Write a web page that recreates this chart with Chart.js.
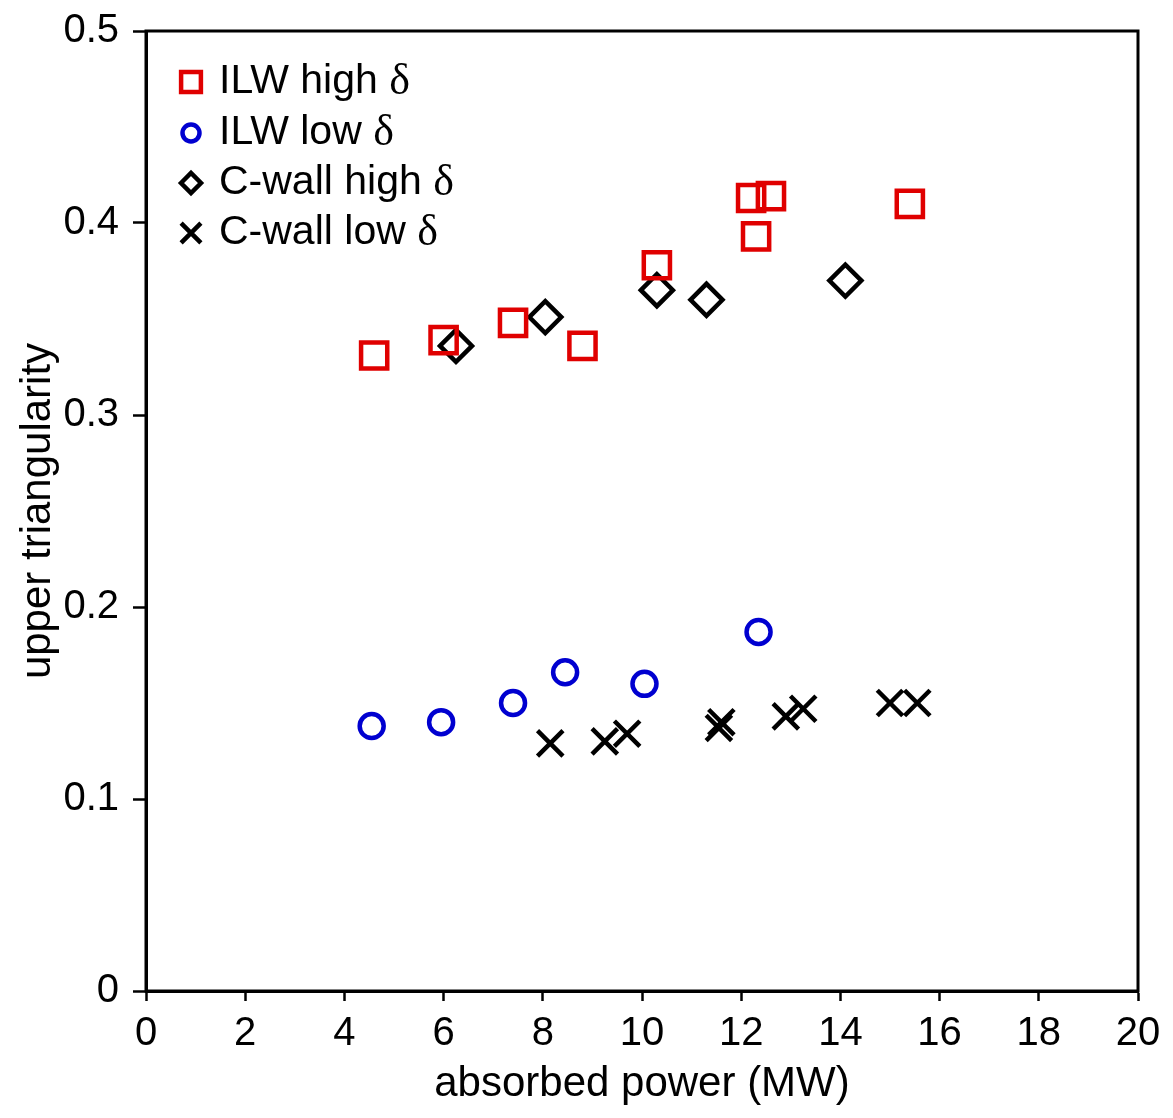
<!DOCTYPE html>
<html>
<head>
<meta charset="utf-8">
<script src="https://cdn.jsdelivr.net/npm/chart.js@4.4.1/dist/chart.umd.min.js"></script>
<style>
html,body{margin:0;padding:0;background:#fff;}
#wrap{position:relative;width:1173px;height:1118px;}
</style>
</head>
<body>
<div id="wrap"><canvas id="c"></canvas></div>
<script>
// ---- data ----
const seriesNames = ['ILW high ', 'ILW low ', 'C-wall high ', 'C-wall low '];
const ilwHighX = [4.6, 6.0, 7.4, 8.8, 10.3, 12.3, 12.2, 12.6, 15.4];
const ilwHighY = [0.331, 0.339, 0.348, 0.336, 0.378, 0.393, 0.413, 0.414, 0.410];
const ilwLowX = [4.55, 5.95, 7.4, 8.45, 10.05, 12.35];
const ilwLowY = [0.138, 0.140, 0.150, 0.166, 0.160, 0.187];
const cwHighX = [6.25, 8.05, 10.3, 11.3, 14.1];
const cwHighY = [0.336, 0.351, 0.365, 0.360, 0.370];
const cwLowX = [8.15, 9.25, 9.7, 11.55, 11.6, 12.9, 13.25, 15.0, 15.55];
const cwLowY = [0.129, 0.130, 0.134, 0.137, 0.140, 0.143, 0.147, 0.150, 0.150];
const xTicks = [0, 2, 4, 6, 8, 10, 12, 14, 16, 18, 20];
const yTicks = [0, 0.1, 0.2, 0.3, 0.4, 0.5];

const pts = (xs, ys) => xs.map((x, i) => ({x: x, y: ys[i]}));
const FONT = "'Liberation Sans', Arial, sans-serif";

const legendStyles = [
  {style: 'rect', color: '#e00000', r: 14},
  {style: 'circle', color: '#0000d0', r: 8.5},
  {style: 'rectRot', color: '#000', r: 10},
  {style: 'crossRot', color: '#000', r: 14}
];

const framePlugin = {
  id: 'frame',
  afterDatasetsDraw(chart) {
    const {ctx, chartArea: a} = chart;
    ctx.save();
    ctx.strokeStyle = '#000';
    ctx.lineWidth = 3;
    ctx.strokeRect(a.left, a.top, a.right - a.left, a.bottom - a.top);
    ctx.restore();
  }
};

const legendPlugin = {
  id: 'customLegend',
  afterDraw(chart) {
    const {ctx} = chart;
    const x0 = 191, textX = 219;
    const ys = [82, 133, 183, 233];
    ctx.save();
    chart.data.datasets.forEach((ds, i) => {
      const st = legendStyles[i];
      ctx.strokeStyle = st.color;
      ctx.fillStyle = 'rgba(0,0,0,0)';
      ctx.lineWidth = 4.5;
      Chart.helpers.drawPoint(ctx, {pointStyle: st.style, radius: st.r, borderWidth: 4.5}, x0, ys[i]);
      ctx.fillStyle = '#000';
      ctx.textBaseline = 'middle';
      ctx.textAlign = 'left';
      ctx.font = "41px " + FONT;
      ctx.fillText(seriesNames[i], textX, ys[i]);
      const w = ctx.measureText(seriesNames[i]).width;
      ctx.font = "44px 'Liberation Serif', 'Times New Roman', serif";
      ctx.fillText('δ', textX + w, ys[i]);
    });
    ctx.restore();
  }
};

new Chart(document.getElementById('c'), {
  type: 'scatter',
  data: {
    datasets: [
      {label: seriesNames[0] + 'δ', data: pts(ilwHighX, ilwHighY), pointStyle: 'rect', pointRadius: 18.5, borderColor: '#e00000', backgroundColor: 'rgba(0,0,0,0)', borderWidth: 4.5, pointHoverRadius: 18.5},
      {label: seriesNames[1] + 'δ', data: pts(ilwLowX, ilwLowY), pointStyle: 'circle', pointRadius: 12, borderColor: '#0000d0', backgroundColor: 'rgba(0,0,0,0)', borderWidth: 4.5, pointHoverRadius: 12},
      {label: seriesNames[2] + 'δ', data: pts(cwHighX, cwHighY), pointStyle: 'rectRot', pointRadius: 16, borderColor: '#000', backgroundColor: 'rgba(0,0,0,0)', borderWidth: 4.5, pointHoverRadius: 16},
      {label: seriesNames[3] + 'δ', data: pts(cwLowX, cwLowY), pointStyle: 'crossRot', pointRadius: 18, borderColor: '#000', backgroundColor: 'rgba(0,0,0,0)', borderWidth: 4.5, pointHoverRadius: 18}
    ]
  },
  options: {
    responsive: true,
    maintainAspectRatio: false,
    animation: false,
    events: [],
    layout: {padding: {top: 31, right: 35, left: 0, bottom: 0}},
    plugins: {legend: {display: false}, tooltip: {enabled: false}},
    scales: {
      x: {
        type: 'linear', min: 0, max: 20,
        afterBuildTicks(s) { s.ticks = xTicks.map(v => ({value: v})); },
        afterFit(s) { s.height = 1118 - 991; s.paddingLeft = 0; s.paddingRight = 0; },
        grid: {display: true, drawOnChartArea: false, drawTicks: true, tickLength: 10, tickColor: '#000', tickWidth: 2.5},
        border: {display: true, color: '#000', width: 3},
        ticks: {color: '#000', font: {family: FONT, size: 40}, padding: 9, maxRotation: 0, callback: v => String(v)},
        title: {display: true, text: 'absorbed power (MW)', color: '#000', font: {family: FONT, size: 42}, padding: {top: 0, bottom: 8}}
      },
      y: {
        type: 'linear', min: 0, max: 0.5,
        afterBuildTicks(s) { s.ticks = yTicks.map(v => ({value: v})); },
        afterFit(s) { s.width = 146; s.paddingTop = 0; s.paddingBottom = 0; },
        grid: {display: true, drawOnChartArea: false, drawTicks: true, tickLength: 13, tickColor: '#000', tickWidth: 2.5},
        border: {display: true, color: '#000', width: 3},
        ticks: {color: '#000', font: {family: FONT, size: 40}, padding: 14, callback: v => (v === 0 ? '0' : v.toFixed(1))},
        title: {display: true, text: 'upper triangularity', color: '#000', font: {family: FONT, size: 42}, padding: {top: 13, bottom: 0}}
      }
    }
  },
  plugins: [framePlugin, legendPlugin]
});
</script>
</body>
</html>
